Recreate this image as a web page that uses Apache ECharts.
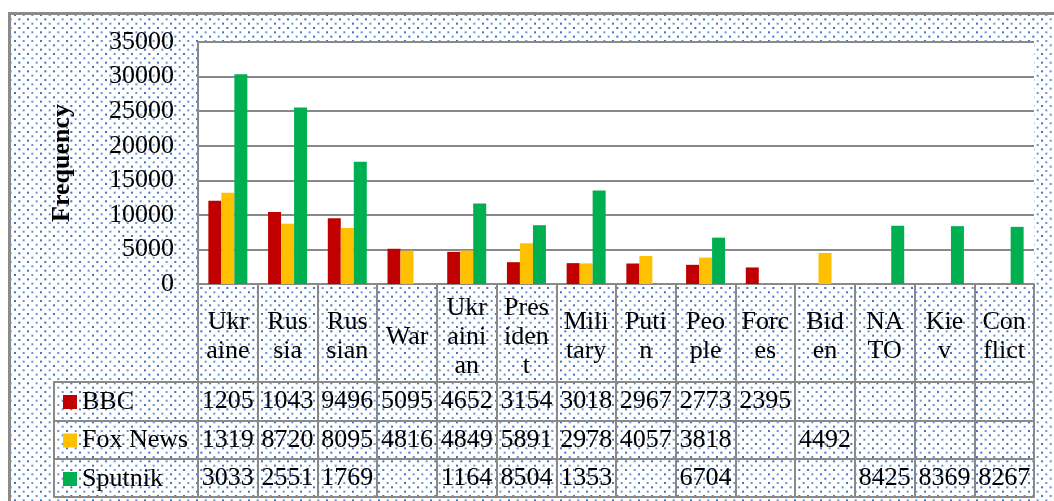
<!DOCTYPE html>
<html>
<head>
<meta charset="utf-8">
<script src="https://cdn.jsdelivr.net/npm/echarts@6/dist/echarts.min.js"></script>
<style>
  html, body { margin: 0; padding: 0; background: #fff; }
  #main { width: 1054px; height: 501px; }
</style>
</head>
<body>
<div id="main"></div>
<script>
// categories (words) and the wrapped text shown in the table header
var categories = ['Ukraine', 'Russia', 'Russian', 'War', 'Ukrainian', 'President', 'Military',
  'Putin', 'People', 'Forces', 'Biden', 'NATO', 'Kiev', 'Conflict'];
var catLabels = ['Ukr\naine', 'Rus\nsia', 'Rus\nsian', 'War', 'Ukr\naini\nan', 'Pres\niden\nt', 'Mili\ntary',
  'Puti\nn', 'Peo\nple', 'Forc\nes', 'Bid\nen', 'NA\nTO', 'Kie\nv', 'Con\nflict'];

// frequencies per source (null = no value)
var bbc = [12050, 10430, 9496, 5095, 4652, 3154, 3018, 2967, 2773, 2395, null, null, null, null];
var fox = [13190, 8720, 8095, 4816, 4849, 5891, 2978, 4057, 3818, null, 4492, null, null, null];
var sputnik = [30330, 25510, 17690, null, 11640, 8504, 13530, null, 6704, null, null, 8425, 8369, 8267];

var sources = ['BBC', 'Fox News', 'Sputnik'];
var colors = ['#C00000', '#FFC000', '#00B050'];

var FONT = '"Liberation Serif", "Times New Roman", serif';
var LINE = '#898989';

// dotted background tile
function makeDots() {
  var c = document.createElement('canvas');
  c.width = 26; c.height = 26;
  var ctx = c.getContext('2d');
  ctx.fillStyle = '#fff';
  ctx.fillRect(0, 0, 26, 26);
  for (var r = 0; r < 6; r++) {
    var y = r * 26 / 6 + 1;
    var off = (r % 2) * 26 / 6;
    for (var k = 0; k < 3; k++) {
      var x = k * 26 / 3 + off + 1;
      ctx.fillStyle = (r + k) % 2 ? '#6a93cf' : '#4274c2';
      ctx.fillRect(x, y, 2, 2);
    }
  }
  return c;
}
var dots = { image: makeDots(), repeat: 'repeat' };

// table row under the plot: one x axis per row, label = value of that source
function rowAxis(offset, values) {
  return {
    type: 'category',
    gridIndex: 0,
    position: 'bottom',
    offset: offset,
    data: categories,
    axisLine: { show: true, lineStyle: { color: LINE, width: 2 } },
    axisTick: { show: false },
    axisLabel: {
      show: !!values,
      interval: 0,
      margin: 19,
      verticalAlign: 'middle',
      fontFamily: FONT,
      fontSize: 26,
      color: '#000',
      width: 58,
      overflow: 'truncate',
      ellipsis: '',
      formatter: function (v, i) {
        return values && values[i] != null ? String(values[i]) : '';
      }
    }
  };
}

var chart = echarts.init(document.getElementById('main'));
chart.setOption({
  backgroundColor: '#fff',
  animation: false,
  textStyle: { fontFamily: FONT },
  color: colors,
  graphic: {
    elements: [{
      type: 'rect',
      z: -10,
      shape: { x: 9.5, y: 13.5, width: 1100, height: 600 },
      style: { fill: dots, stroke: '#8a8a8a', lineWidth: 3 }
    }]
  },
  legend: {
    data: sources,
    orient: 'vertical',
    left: 63,
    top: 387,
    padding: 0,
    icon: 'rect',
    itemWidth: 14,
    itemHeight: 14,
    itemGap: 8.5,
    textStyle: { fontFamily: FONT, fontSize: 26, lineHeight: 30, color: '#000' }
  },
  grid: [
    { left: 198, right: 20, top: 42, bottom: 217, show: true, backgroundColor: '#fff', borderWidth: 0,
      containLabel: false, outerBoundsMode: 'none' },
    // legend column of the data table
    { left: 54, width: 144, top: 382, height: 115, containLabel: false, outerBoundsMode: 'none' }
  ],
  xAxis: [
    {
      type: 'category',
      gridIndex: 0,
      position: 'bottom',
      data: categories,
      axisLine: { show: true, lineStyle: { color: LINE, width: 2 } },
      axisTick: { show: true, length: 213, alignWithLabel: false, interval: 0, lineStyle: { color: LINE, width: 2 } },
      axisLabel: {
        interval: 0,
        margin: 53,
        verticalAlign: 'middle',
        fontFamily: FONT,
        fontSize: 26,
        lineHeight: 29,
        color: '#000',
        formatter: function (v, i) { return catLabels[i]; }
      }
    },
    rowAxis(98, bbc),
    rowAxis(137, fox),
    rowAxis(175, sputnik),
    rowAxis(213, null),
    { type: 'value', gridIndex: 1, show: false }
  ],
  yAxis: [
    {
      type: 'value',
      gridIndex: 0,
      min: 0,
      max: 35000,
      interval: 5000,
      name: 'Frequency',
      nameLocation: 'middle',
      nameGap: 123,
      nameTextStyle: { fontFamily: FONT, fontSize: 26, fontWeight: 'bold', color: '#000' },
      axisLine: { show: true, lineStyle: { color: LINE, width: 2 } },
      axisTick: { show: false },
      splitLine: { show: true, lineStyle: { color: LINE, width: 2 } },
      axisLabel: {
        margin: 24, fontFamily: FONT, fontSize: 26, color: '#000',
        formatter: function (v) { return String(v); }
      }
    },
    {
      type: 'category',
      gridIndex: 1,
      inverse: true,
      data: sources,
      axisLine: { show: true, lineStyle: { color: LINE, width: 2 } },
      axisTick: { show: false },
      axisLabel: { show: false },
      splitLine: { show: true, interval: 0, lineStyle: { color: LINE, width: 2 } }
    }
  ],
  series: [
    { name: 'BBC', type: 'bar', data: bbc, barWidth: 13, barGap: '0%' },
    { name: 'Fox News', type: 'bar', data: fox, barWidth: 13, barGap: '0%' },
    { name: 'Sputnik', type: 'bar', data: sputnik, barWidth: 13, barGap: '0%' }
  ]
});
</script>
</body>
</html>
